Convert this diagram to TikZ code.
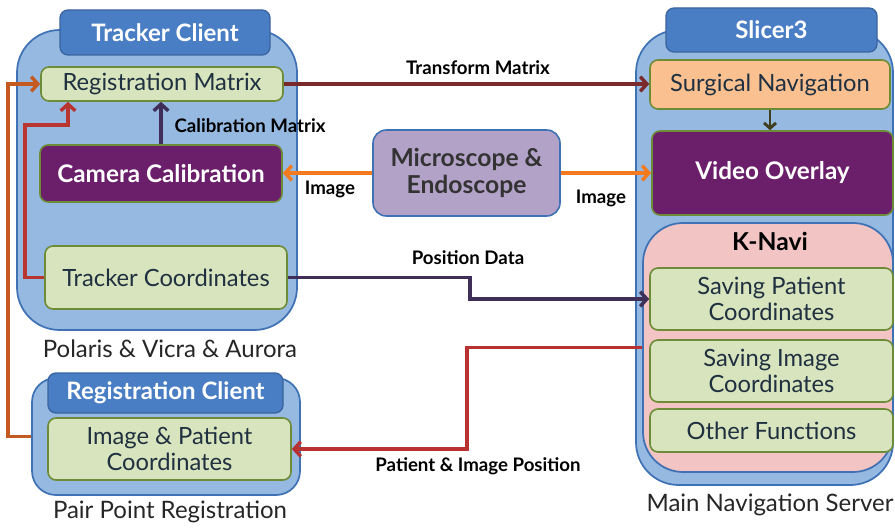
\documentclass[tikz,border=0pt]{standalone}
\usepackage{fontspec}
\setmainfont{Lato}
\usetikzlibrary{arrows.meta}
\definecolor{contfill}{HTML}{95B9E1}
\definecolor{contdraw}{HTML}{3F72B5}
\definecolor{tabfill}{HTML}{4A7EC4}
\definecolor{tabdraw}{HTML}{3A64A0}
\definecolor{grfill}{HTML}{D7E4BD}
\definecolor{grdraw}{HTML}{6E8C38}
\definecolor{purp}{HTML}{6B1F6B}
\definecolor{orfill}{HTML}{FAC090}
\definecolor{pinkfill}{HTML}{F2C4C4}
\definecolor{lavfill}{HTML}{B3A2C7}
\definecolor{txtdark}{HTML}{1F3040}
\definecolor{maroon}{HTML}{7A2A2A}
\definecolor{darkpurp}{HTML}{3F2F58}
\definecolor{orangeln}{HTML}{F47A20}
\definecolor{olive}{HTML}{3F3F1F}
\definecolor{redln}{HTML}{B83232}
\definecolor{brownln}{HTML}{C55A20}
\begin{document}
\begin{tikzpicture}[x=0.75pt,y=-0.75pt,
  cont/.style={draw=contdraw,fill=contfill,line width=1.3pt,inner sep=0pt},
  tabbox/.style={draw=tabdraw,fill=tabfill,line width=1pt,rounded corners=6pt,inner sep=0pt,
     text=white,font=\fontsize{18}{20}\selectfont\bfseries},
  grbox/.style={draw=grdraw,fill=grfill,line width=1.2pt,rounded corners=6pt,inner sep=0pt,
     align=center,text=txtdark,font=\fontsize{17.8}{20}\selectfont},
  purbox/.style={draw=grdraw,fill=purp,line width=1.2pt,rounded corners=6pt,inner sep=0pt,
     text=white,font=\fontsize{18.2}{20}\selectfont\bfseries},
  lbl/.style={font=\fontsize{14}{16}\selectfont\bfseries,text=black},
  captxt/.style={font=\fontsize{18}{20}\selectfont,text=black!85},
  conn/.style={line width=2.6pt,-{Straight Barb[length=5pt,width=11pt]}},
]
\useasboundingbox (0,0) rectangle (895,528);

% Tracker client
\node[cont,rounded corners=32pt,minimum width=210pt,minimum height=225pt] (tc) at (157,180) {};
\node[tabbox,minimum width=157.5pt,minimum height=33.75pt] (tct) at (165,32.5) {Tracker Client};
\node[grbox,minimum width=181.5pt,minimum height=25.5pt] (regm) at (162,84) {Registration Matrix};
\node[purbox,minimum width=181.5pt,minimum height=42.75pt] (camc) at (161,173.5) {Camera Calibration};
\node[grbox,minimum width=181.5pt,minimum height=47.25pt] (trkc) at (166,277.5) {Tracker Coordinates};
\node[captxt] (pol) at (170,349) {Polaris \& Vicra \& Aurora};

% Registration client
\node[cont,rounded corners=18pt,minimum width=201pt,minimum height=87.75pt] (rc) at (166,436.5) {};
\node[tabbox,minimum width=176.25pt,minimum height=30pt] (rct) at (165.5,393) {Registration Client};
\node[grbox,minimum width=182.25pt,minimum height=46.5pt] (ipc) at (169.5,449) {Image \& Patient\\Coordinates};
\node[captxt] (ppr) at (170,512) {Pair Point Registration};

% Slicer3
\node[cont,rounded corners=32pt,minimum width=192.75pt,minimum height=341.25pt] (sl) at (764.5,257.5) {};
\node[tabbox,minimum width=158.25pt,minimum height=33pt] (slt) at (771.5,30) {Slicer3};
\node[grbox,fill=orfill,minimum width=180pt,minimum height=36.75pt] (surg) at (770,84.5) {Surgical Navigation};
\node[purbox,minimum width=180.75pt,minimum height=63pt] (video) at (772.5,173) {Video Overlay};
\node[cont,fill=pinkfill,rounded corners=30pt,minimum width=187.5pt,minimum height=186.75pt] (kn) at (768,347.5) {};
\node[font=\fontsize{18.5}{20}\selectfont\bfseries,text=black] (knl) at (770,241) {K-Navi};
\node[grbox,minimum width=182.25pt,minimum height=46.5pt] (spc) at (771.5,299) {Saving Patient\\Coordinates};
\node[grbox,minimum width=182.25pt,minimum height=46.5pt] (sic) at (771.5,371) {Saving Image\\Coordinates};
\node[grbox,minimum width=182.25pt,minimum height=32.25pt] (of) at (771.5,430.5) {Other Functions};
\node[captxt] (mns) at (770,505) {Main Navigation Server};

% Microscope
\node[draw=contdraw,fill=lavfill,line width=1.2pt,rounded corners=10pt,minimum width=140.25pt,minimum height=64.5pt,
  align=center,text=black!80,font=\fontsize{18.5}{20.5}\selectfont\bfseries] (mic) at (466.5,173) {Microscope \&\\Endoscope};

% connectors
\draw[conn,maroon] (regm.east) -- (regm.east -| surg.west);
\node[lbl] (ltm) at (478,68) {Transform Matrix};
\draw[conn,darkpurp] (camc.north) -- (camc.north |- regm.south);
\node[lbl] (lcm) at (250,126) {Calibration Matrix};
\draw[conn,orangeln] (mic.west) -- (mic.west -| camc.east);
\node[lbl] (li1) at (330,189) {Image};
\draw[conn,orangeln] (mic.east) -- (mic.east -| video.west);
\node[lbl] (li2) at (601,198) {Image};
\draw[conn,olive,line width=2.2pt,-{Straight Barb[length=4pt,width=9pt]}] (surg.south) -- (surg.south |- video.north);
\coordinate (pd) at (470,299);
\draw[conn,darkpurp] (trkc.east) -| (pd) -- (spc.west);
\node[lbl] (lpd) at (468,258) {Position Data};
\coordinate (pi) at (467,347.5);
\draw[conn,redln] (kn.west) -- (pi) |- (ipc.east);
\node[lbl] (lpi) at (478,466) {Patient \& Image Position};
\coordinate (ob) at (8,436.5);
\draw[conn,brownln] (rc.west) -- (ob) |- (regm.west);
\coordinate (ra) at (25,125);
\coordinate (rk) at (68,125);
\draw[conn,redln!90!brownln] (trkc.west) -| (ra) -- (rk) -- (rk |- regm.south);
\end{tikzpicture}
\end{document}
